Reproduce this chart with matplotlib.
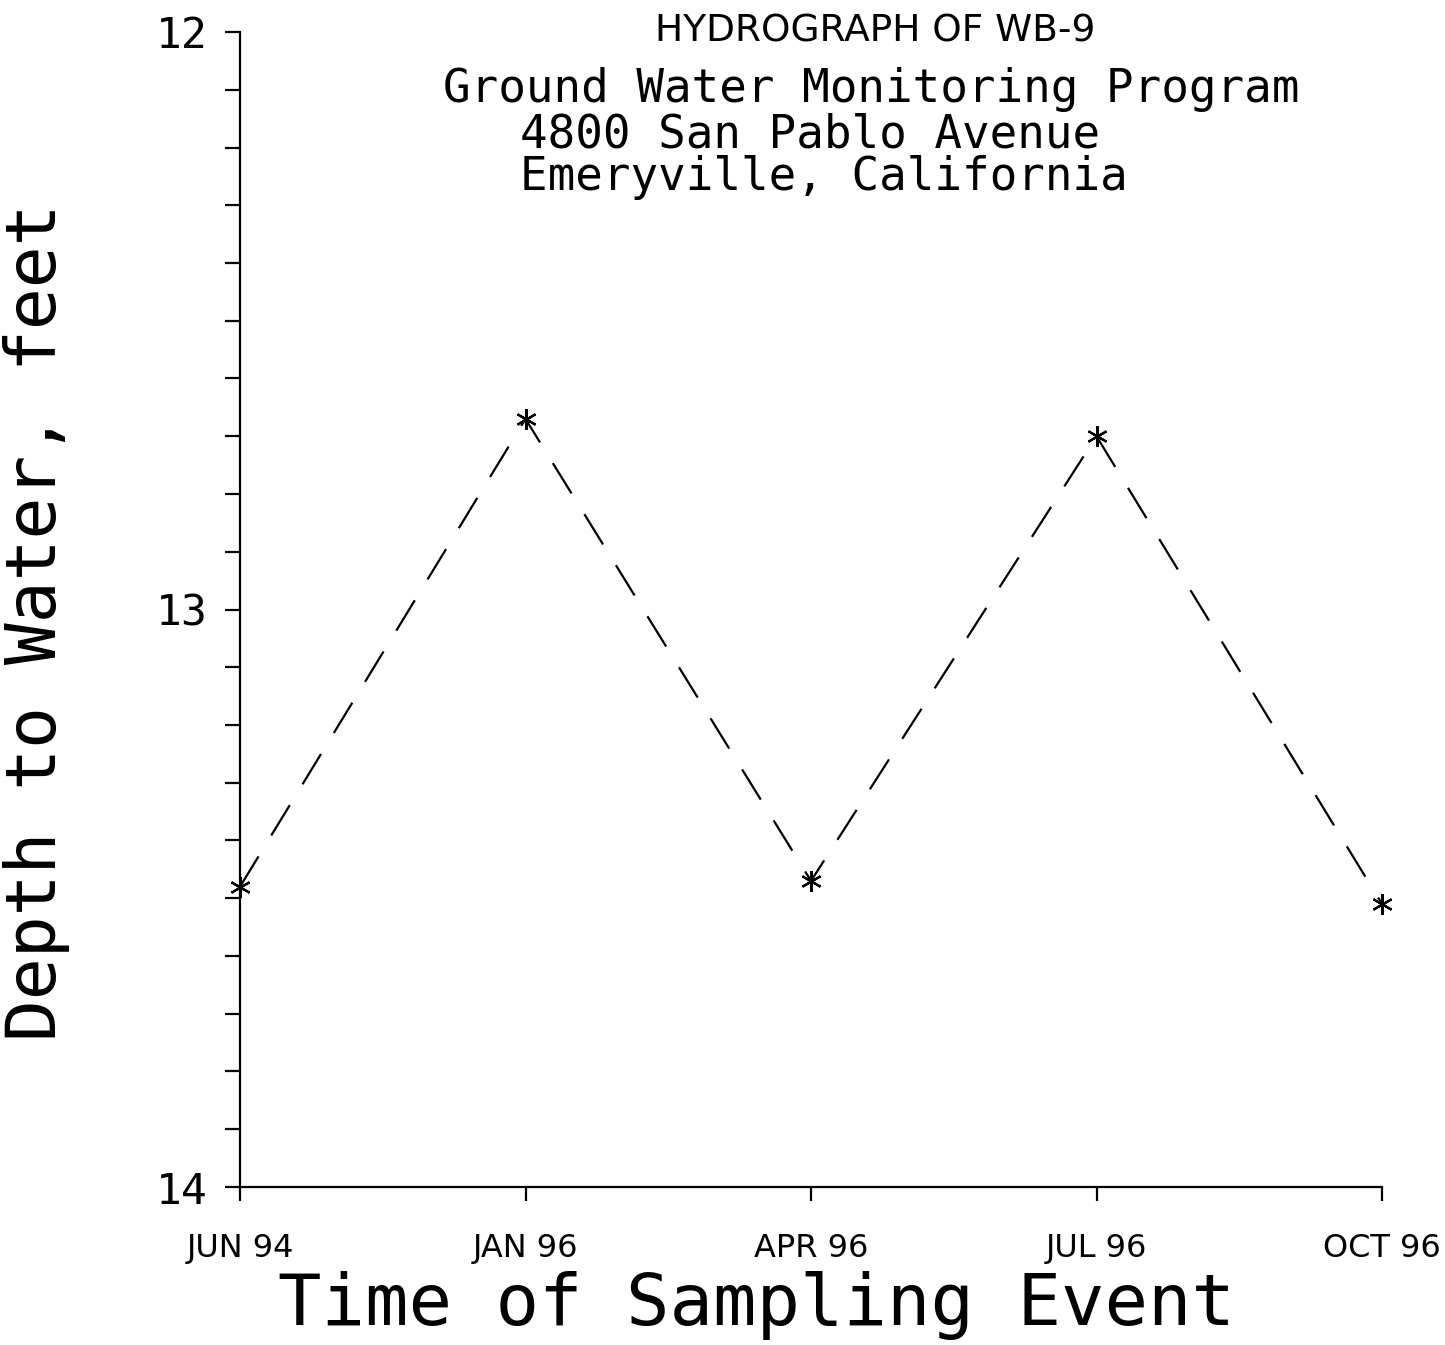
import matplotlib
matplotlib.use("Agg")
import matplotlib.pyplot as plt
import numpy as np

# sampling events and depth to water (feet)
events = ["JUN 94", "JAN 96", "APR 96", "JUL 96", "OCT 96"]
depth = [13.48, 12.67, 13.47, 12.70, 13.51]

title = "HYDROGRAPH OF WB-9"
sub1 = "Ground Water Monitoring Program"
sub2 = "4800 San Pablo Avenue"
sub3 = "Emeryville, California"

mono = "DejaVu Sans Mono"

fig = plt.figure(figsize=(14.45, 13.45), dpi=100)
ax = fig.add_axes([240 / 1445, 1 - 1187 / 1345, (1382 - 240) / 1445, (1187 - 32) / 1345])

x = np.arange(len(events))
ax.plot(x, depth, color="black", lw=1.6, dashes=(16, 11),
        marker=(6, 2, 0), markersize=15, markeredgewidth=1.6, clip_on=False)

ax.set_xlim(0, len(events) - 1)
ax.set_ylim(14, 12)
ax.set_xticks(x)
ax.set_xticklabels(events, fontsize=23)
ax.set_yticks([12, 13, 14])
ax.set_yticklabels(["12", "13", "14"], fontsize=31, family=mono)
ax.set_yticks(np.arange(12, 14.001, 0.1), minor=True)

ax.spines["top"].set_visible(False)
ax.spines["right"].set_visible(False)
for s in ["left", "bottom"]:
    ax.spines[s].set_linewidth(1.6)

ax.tick_params(axis="y", which="both", direction="out", length=11, width=1.6, pad=12)
ax.tick_params(axis="x", which="major", direction="out", length=10, width=1.6, pad=23)

# titles
fig.text(875 / 1445, 1 - 32 / 1345, title, ha="center", va="center", fontsize=27)
fig.text(871 / 1445, 1 - 90 / 1345, sub1, ha="center", va="center", fontsize=33, family=mono)
fig.text(810 / 1445, 1 - 135 / 1345, sub2, ha="center", va="center", fontsize=33, family=mono)
fig.text(824 / 1445, 1 - 178 / 1345, sub3, ha="center", va="center", fontsize=33, family=mono)

# axis labels
fig.text(37 / 1445, 1 - 622 / 1345, "Depth to Water, feet", rotation=90,
         ha="center", va="center", fontsize=50, family=mono)
fig.text(757 / 1445, 1 - 1305 / 1345, "Time of Sampling Event",
         ha="center", va="center", fontsize=52, family=mono)

fig.savefig("out.png", dpi=100, facecolor="white")
